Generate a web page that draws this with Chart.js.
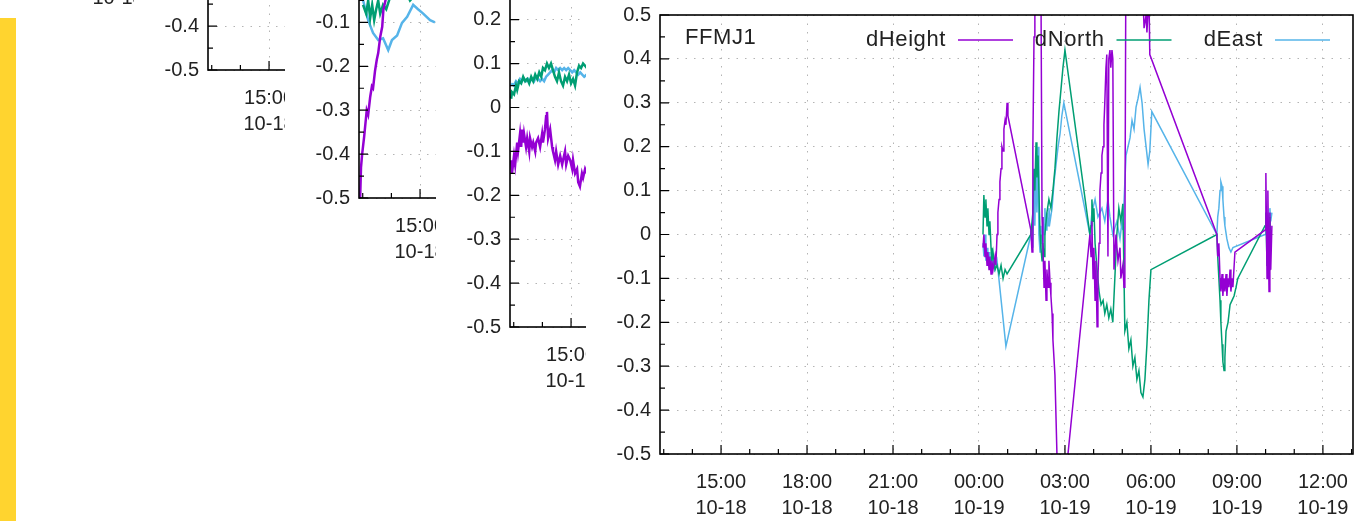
<!DOCTYPE html>
<html>
<head>
<meta charset="utf-8">
<title>GNSS displacement</title>
<script src="https://cdn.jsdelivr.net/npm/chart.js@4.4.0/dist/chart.umd.min.js"></script>
<style>
  html, body { margin: 0; padding: 0; background: #fff; overflow: hidden; }
  #page { position: relative; width: 1355px; height: 521px; overflow: hidden; }
  #page canvas { position: absolute; background: #fff; }
  #sidebar { position: absolute; left: 0; top: 18px; width: 16px; height: 503px; background: #ffd42f; z-index: 10; }
</style>
</head>
<body>
<div id="page">
  <canvas id="plot0" width="790" height="560" style="left:-17px;top:-510px"></canvas>
  <canvas id="plot1" width="790" height="560" style="left:134px;top:-384px"></canvas>
  <canvas id="plot2" width="790" height="560" style="left:285px;top:-256px"></canvas>
  <canvas id="plot3" width="790" height="560" style="left:436px;top:-127px"></canvas>
  <canvas id="plotFFMJ1" width="790" height="560" style="left:586px;top:0"></canvas>
  <div id="sidebar"></div>
</div>
<script>
// time axis: hours relative to 10-19 00:00
const X_MIN = -11.13, X_MAX = 13.05;
const xTickHours = [-9, -6, -3, 0, 3, 6, 9, 12];
const xTickTimes = ['15:00', '18:00', '21:00', '00:00', '03:00', '06:00', '09:00', '12:00'];
const xTickDates = ['10-18', '10-18', '10-18', '10-19', '10-19', '10-19', '10-19', '10-19'];
const yTickValues = [-0.5, -0.4, -0.3, -0.2, -0.1, 0, 0.1, 0.2, 0.3, 0.4, 0.5];
const yTickLabels = ['-0.5', '-0.4', '-0.3', '-0.2', '-0.1', '0', '0.1', '0.2', '0.3', '0.4', '0.5'];

const colours = { dHeight: '#9400d3', dNorth: '#009e73', dEast: '#56b4e9' };

// FFMJ1
const ffmj1HeightT = [0.14, 0.17, 0.21, 0.24, 0.28, 0.31, 0.35, 0.38, 0.42, 0.45, 0.49, 0.56, 0.59, 0.63, 0.66, 0.70, 0.73, 0.77, 0.80, 0.84, 0.87, 0.91, 0.94, 0.98, 1.01,
  1.81, 1.85, 1.88, 1.92, 1.95, 2.02, 2.09, 2.16, 2.20, 2.23, 2.27, 2.30, 2.34, 2.37, 2.41, 2.44, 2.48, 2.51, 2.55, 2.58, 2.65, 2.72, 2.86,
  3.87, 3.91, 3.94, 3.98, 4.01, 4.05, 4.08, 4.12, 4.15, 4.19, 4.22, 4.26, 4.29, 4.33, 4.36, 4.39, 4.43, 4.46, 4.50, 4.53, 4.57, 4.60, 4.64, 4.67, 4.71, 4.78, 4.85, 4.92, 4.95, 5.02, 5.06, 5.09, 5.13, 5.16, 5.44, 5.69, 5.76, 5.83, 5.86, 5.93, 5.96,
  8.30, 8.33, 8.37, 8.41, 8.44, 8.48, 8.51, 8.55, 8.58, 8.62, 8.65, 8.69, 8.72, 8.76, 8.79, 8.83, 8.86, 8.93,
  9.98, 10.01, 10.05, 10.08, 10.12, 10.15, 10.18, 10.22];
const ffmj1HeightV = [-0.03, 0.0, -0.05, -0.02, -0.07, -0.04, -0.08, -0.05, -0.09, -0.06, -0.08, -0.05, -0.07, 0.0, 0.05, 0.08, 0.12, 0.15, 0.20, 0.19, 0.24, 0.26, 0.25, 0.30, 0.27,
  0.01, -0.04, 0.2, 0.45, 0.7, 0.65, 0.62, 0.6, 0.04, -0.02, -0.12, -0.06, -0.15, -0.08, -0.12, -0.06, -0.11, -0.14, -0.18, -0.24, -0.32, -0.5, -0.66,
  0.0, -0.05, 0.03, -0.1, -0.03, -0.15, -0.06, -0.21, -0.1, -0.02, 0.1, 0.14, 0.18, 0.2, 0.25, 0.3, 0.38, 0.41, -0.05, 0.4, 0.42, 0.38, 0.42, 0.4, -0.08, 0.0, -0.06, -0.03, -0.1, -0.07, -0.12, -0.04, 0.7, 0.75, 0.8, 0.6, 0.47, 0.5, 0.46, 0.55, 0.41,
  0.0, -0.05, -0.02, -0.1, -0.13, -0.09, -0.14, -0.1, -0.13, -0.09, -0.14, -0.1, -0.12, -0.08, -0.13, -0.1, -0.12, -0.04,
  0.01, 0.14, -0.1, 0.1, -0.13, 0.05, -0.08, 0.02];

const ffmj1NorthT = [0.14, 0.17, 0.21, 0.24, 0.28, 0.31, 0.35, 0.38, 0.42, 0.45, 0.49, 0.56, 0.63, 0.70, 0.77, 0.84, 0.91, 0.98,
  1.81, 1.88, 1.92, 1.95, 1.99, 2.02, 2.06, 2.13, 2.16, 2.20, 2.23, 2.27, 2.30, 2.37, 2.44, 2.51, 2.58, 2.65, 2.72, 2.79, 2.86, 2.93, 3.00,
  3.87, 3.91, 3.94, 3.98, 4.01, 4.05, 4.12, 4.19, 4.26, 4.33, 4.39, 4.46, 4.53, 4.60, 4.67, 4.74, 4.81, 4.88, 4.95, 5.02, 5.09, 5.16, 5.23, 5.30, 5.37, 5.44, 5.51, 5.58, 5.65, 5.72, 5.79, 5.86, 5.93, 6.00,
  8.30, 8.33, 8.37, 8.41, 8.44, 8.48, 8.51, 8.55, 8.58, 8.62, 8.69, 8.76, 8.83, 8.90, 8.97, 9.03,
  9.98, 10.01, 10.05, 10.08, 10.12, 10.15, 10.18];
const ffmj1NorthV = [0.0, 0.09, 0.04, 0.08, 0.02, 0.06, 0.0, 0.03, -0.03, -0.06, -0.04, -0.08, -0.07, -0.09, -0.07, -0.1, -0.08, -0.09,
  0.0, 0.05, 0.15, 0.1, 0.21, 0.13, 0.18, 0.0, -0.03, -0.06, -0.02, -0.05, 0.0, 0.05, 0.08, 0.06, 0.1, 0.15, 0.22, 0.28, 0.33, 0.38, 0.42,
  0.0, 0.02, 0.08, 0.03, 0.06, -0.02, -0.08, -0.13, -0.16, -0.15, -0.18, -0.16, -0.19, -0.17, -0.2, -0.1, 0.0, 0.06, 0.03, 0.07, -0.22, -0.2, -0.26, -0.24, -0.3, -0.28, -0.33, -0.31, -0.36, -0.37, -0.33, -0.25, -0.15, -0.08,
  0.0, -0.05, -0.1, -0.15, -0.2, -0.25, -0.29, -0.31, -0.28, -0.22, -0.2, -0.16, -0.15, -0.14, -0.12, -0.1,
  0.02, 0.05, -0.07, 0.03, -0.08, 0.04, -0.02];

const ffmj1EastT = [0.14, 0.17, 0.21, 0.24, 0.28, 0.31, 0.35, 0.38, 0.42, 0.45, 0.49, 0.56, 0.63, 0.94,
  1.81, 1.85, 1.88, 1.92, 1.95, 1.99, 2.02, 2.06, 2.09, 2.13, 2.16, 2.20, 2.23, 2.27, 2.30, 2.34, 2.37, 2.41, 2.44, 2.48, 2.55, 2.62, 2.69, 2.76, 2.83, 2.89, 2.96,
  3.87, 3.94, 4.05, 4.15, 4.29, 4.39, 4.50, 4.57, 4.67, 4.81, 4.92, 4.99, 5.02, 5.09, 5.13, 5.20, 5.27, 5.34, 5.41, 5.48, 5.55, 5.62, 5.69, 5.76, 5.83, 5.90, 5.96, 6.03,
  8.30, 8.33, 8.37, 8.41, 8.44, 8.48, 8.51, 8.55, 8.58, 8.65, 8.72, 8.79, 8.86,
  9.98, 10.01, 10.05, 10.08, 10.12, 10.15, 10.18, 10.22];
const ffmj1EastV = [-0.02, -0.05, 0.0, -0.06, -0.03, -0.07, -0.04, -0.08, -0.05, -0.07, -0.06, -0.08, -0.06, -0.255,
  0.0, 0.02, -0.03, 0.1, 0.02, 0.18, 0.05, 0.2, 0.0, -0.04, 0.02, -0.02, 0.04, 0.0, 0.06, 0.01, 0.05, 0.02, 0.06, 0.03, 0.06, 0.12, 0.16, 0.2, 0.23, 0.27, 0.3,
  0.0, 0.05, 0.08, 0.04, 0.06, 0.03, 0.08, 0.04, 0.0, 0.03, -0.01, 0.03, 0.01, 0.12, 0.18, 0.2, 0.22, 0.26, 0.24, 0.29, 0.31, 0.335, 0.3, 0.24, 0.2, 0.16, 0.19, 0.28,
  0.0, 0.04, 0.06, 0.1, 0.12, 0.11, 0.08, 0.04, 0.02, -0.01, -0.03, -0.04, -0.03,
  0.0, 0.03, -0.01, 0.05, 0.02, 0.06, 0.03, 0.05];

// panel behind FFMJ1 (one step up-left)
const p3HeightT = [-11.09, -11.06, -10.99, -10.95, -10.88, -10.85, -10.78, -10.74, -10.71, -10.67, -10.64, -10.57, -10.53, -10.46, -10.43, -10.36, -10.32, -10.25, -10.22, -10.15, -10.08, -10.01, -9.98, -9.91, -9.87, -9.84, -9.80, -9.73, -9.66, -9.63, -9.56, -9.52, -9.45, -9.38, -9.31, -9.28, -9.21, -9.17, -9.10, -9.03, -8.96, -8.93, -8.86, -8.79, -8.75, -8.69, -8.62, -8.58, -8.51, -8.45];
const p3HeightV = [-0.12, -0.15, -0.11, -0.13, -0.08, -0.1, -0.06, -0.09, -0.05, -0.08, -0.06, -0.09, -0.07, -0.1, -0.07, -0.09, -0.08, -0.1, -0.08, -0.07, -0.09, -0.06, -0.08, -0.05, -0.02, -0.01, -0.07, -0.05, -0.09, -0.1, -0.12, -0.1, -0.13, -0.11, -0.13, -0.12, -0.1, -0.13, -0.11, -0.12, -0.14, -0.12, -0.15, -0.14, -0.17, -0.18, -0.15, -0.16, -0.14, -0.15];
const p3NorthT = [-11.09, -11.06, -10.99, -10.92, -10.88, -10.81, -10.74, -10.67, -10.60, -10.53, -10.46, -10.39, -10.32, -10.25, -10.18, -10.11, -10.04, -9.98, -9.91, -9.84, -9.77, -9.70, -9.63, -9.56, -9.49, -9.42, -9.35, -9.28, -9.21, -9.14, -9.07, -9.00, -8.93, -8.86, -8.79, -8.72, -8.65, -8.58, -8.51, -8.45];
const p3NorthV = [0.02, 0.035, 0.03, 0.05, 0.04, 0.06, 0.055, 0.07, 0.06, 0.065, 0.055, 0.07, 0.06, 0.075, 0.065, 0.08, 0.07, 0.09, 0.085, 0.1, 0.09, 0.1, 0.085, 0.07, 0.06, 0.08, 0.06, 0.05, 0.07, 0.06, 0.075, 0.055, 0.065, 0.05, 0.08, 0.095, 0.09, 0.1, 0.095, 0.09];
const p3EastT = [-11.09, -11.0, -10.92, -10.85, -10.78, -10.71, -10.64, -10.57, -10.5, -10.43, -10.36, -10.29, -10.22, -10.15, -10.08, -10.01, -9.94, -9.87, -9.8, -9.73, -9.66, -9.59, -9.52, -9.45, -9.38, -9.31, -9.24, -9.17, -9.1, -9.03, -8.96, -8.89, -8.82, -8.75, -8.68, -8.61, -8.54, -8.45];
const p3EastV = [0.055, 0.05, 0.06, 0.055, 0.065, 0.06, 0.065, 0.06, 0.065, 0.06, 0.065, 0.06, 0.07, 0.065, 0.06, 0.065, 0.06, 0.07, 0.075, 0.08, 0.085, 0.08, 0.09, 0.085, 0.09, 0.085, 0.09, 0.085, 0.09, 0.085, 0.08, 0.085, 0.08, 0.075, 0.08, 0.075, 0.07, 0.075];

// panel two steps up-left
const p2HeightT = [-11.12, -11.09, -11.06, -11.02, -10.95, -10.86, -10.81, -10.74, -10.68, -10.64, -10.57, -10.51, -10.46, -10.39, -10.32, -10.28, -10.19, -10.15];
const p2HeightV = [-0.56, -0.5, -0.43, -0.4, -0.36, -0.3, -0.31, -0.27, -0.246, -0.25, -0.21, -0.185, -0.17, -0.133, -0.11, -0.072, -0.045, -0.02];
const p2NorthT = [-10.99, -10.88, -10.81, -10.74, -10.67, -10.60, -10.53, -10.46, -10.39, -10.29, -10.18, -10.08, -9.98, -9.70, -9.35, -9.21];
const p2NorthV = [-0.06, -0.08, -0.05, -0.09, -0.06, -0.095, -0.07, -0.05, -0.08, -0.06, -0.07, -0.05, -0.03, 0.0, -0.05, -0.04];
const p2EastT = [-11.09, -10.99, -10.81, -10.64, -10.46, -10.29, -10.11, -9.98, -9.80, -9.63, -9.45, -9.24, -9.07, -8.89, -8.65, -8.48];
const p2EastV = [-0.02, -0.049, -0.095, -0.124, -0.14, -0.136, -0.163, -0.14, -0.13, -0.101, -0.087, -0.06, -0.07, -0.08, -0.095, -0.1];

const FONT = '"Liberation Sans", Arial, sans-serif';
Chart.defaults.font.family = FONT;

// gnuplot style: inward tick marks, box border, title and key inside the plot
const gnuplotFrame = {
  id: 'gnuplotFrame',
  afterDatasetsDraw(chart, args, opts) {
    const { ctx, chartArea: a, scales: { x, y } } = chart;
    ctx.save();
    ctx.strokeStyle = '#000';
    ctx.lineWidth = 1.2;
    ctx.beginPath();
    for (let h = Math.ceil(X_MIN); h <= X_MAX; h++) {
      const px = x.getPixelForValue(h);
      const len = xTickHours.includes(h) ? 9 : 5;
      ctx.moveTo(px, a.bottom);
      ctx.lineTo(px, a.bottom - len);
    }
    for (let i = -10; i <= 10; i++) {
      const py = y.getPixelForValue(i / 20);
      const len = i % 2 === 0 ? 9 : 5;
      ctx.moveTo(a.left, py);
      ctx.lineTo(a.left + len, py);
    }
    ctx.stroke();
    ctx.lineWidth = 1.6;
    ctx.strokeRect(a.left, a.top, a.right - a.left, a.bottom - a.top);

    ctx.fillStyle = '#222';
    ctx.font = '22px ' + FONT;
    ctx.textBaseline = 'middle';
    if ('letterSpacing' in ctx) ctx.letterSpacing = '0.6px';
    if (opts.title) {
      ctx.textAlign = 'left';
      ctx.fillText(opts.title, a.left + 25, a.top + 23);
    }
    const ky = a.top + 25;
    const all = chart.data.datasets;
    ctx.textAlign = 'right';
    all.forEach((ds, i) => {
      const end = a.right - 23 - (all.length - 1 - i) * 158.5;
      ctx.strokeStyle = ds.borderColor;
      ctx.lineWidth = 1.5;
      ctx.beginPath();
      ctx.moveTo(end - 55, ky);
      ctx.lineTo(end, ky);
      ctx.stroke();
      ctx.fillText(ds.label, end - 67, ky);
    });
    ctx.restore();
  }
};

function gnuplotPanel(id, title, series, lineWidth) {
  return new Chart(document.getElementById(id), {
    type: 'line',
    data: {
      datasets: series.map(s => ({
        label: s.label,
        data: s.t.map((t, i) => ({ x: t, y: s.v[i] })),
        borderColor: colours[s.label],
        borderWidth: lineWidth,
        pointRadius: 0,
        tension: 0,
        fill: false
      }))
    },
    options: {
      responsive: false,
      animation: false,
      layout: { padding: { top: 15, right: 23, left: 0, bottom: 0 } },
      plugins: {
        legend: { display: false },
        tooltip: { enabled: false },
        gnuplotFrame: { title: title }
      },
      scales: {
        x: {
          type: 'linear',
          min: X_MIN,
          max: X_MAX,
          afterBuildTicks: s => { s.ticks = xTickHours.map(v => ({ value: v })); },
          afterFit: s => { s.height = 106; s.paddingLeft = 0; s.paddingRight = 0; },
          grid: { color: '#b4b4b4', lineWidth: 1, drawTicks: false },
          border: { display: false, dash: [1.5, 7] },
          ticks: {
            autoSkip: false, maxRotation: 0, padding: 15, color: '#222',
            font: { size: 20, lineHeight: 1.3 },
            callback: (v, i) => [xTickTimes[i], xTickDates[i]]
          }
        },
        y: {
          type: 'linear',
          min: -0.5,
          max: 0.5,
          afterBuildTicks: s => { s.ticks = yTickValues.map(v => ({ value: v })); },
          afterFit: s => { s.width = 74; s.paddingTop = 0; s.paddingBottom = 0; },
          grid: { color: '#b4b4b4', lineWidth: 1, drawTicks: false },
          border: { display: false, dash: [1.5, 7] },
          ticks: {
            padding: 9, color: '#222',
            font: { size: 20 },
            callback: (v, i) => yTickLabels[i]
          }
        }
      }
    },
    plugins: [gnuplotFrame]
  });
}

gnuplotPanel('plot0', '', [], 1.5);
gnuplotPanel('plot1', '', [], 1.5);
gnuplotPanel('plot2', '', [
  { label: 'dHeight', t: p2HeightT, v: p2HeightV },
  { label: 'dNorth', t: p2NorthT, v: p2NorthV },
  { label: 'dEast', t: p2EastT, v: p2EastV }
], 2.5);
gnuplotPanel('plot3', '', [
  { label: 'dHeight', t: p3HeightT, v: p3HeightV },
  { label: 'dNorth', t: p3NorthT, v: p3NorthV },
  { label: 'dEast', t: p3EastT, v: p3EastV }
], 2.5);
gnuplotPanel('plotFFMJ1', 'FFMJ1', [
  { label: 'dHeight', t: ffmj1HeightT, v: ffmj1HeightV },
  { label: 'dNorth', t: ffmj1NorthT, v: ffmj1NorthV },
  { label: 'dEast', t: ffmj1EastT, v: ffmj1EastV }
], 1.5);
</script>
</body>
</html>
